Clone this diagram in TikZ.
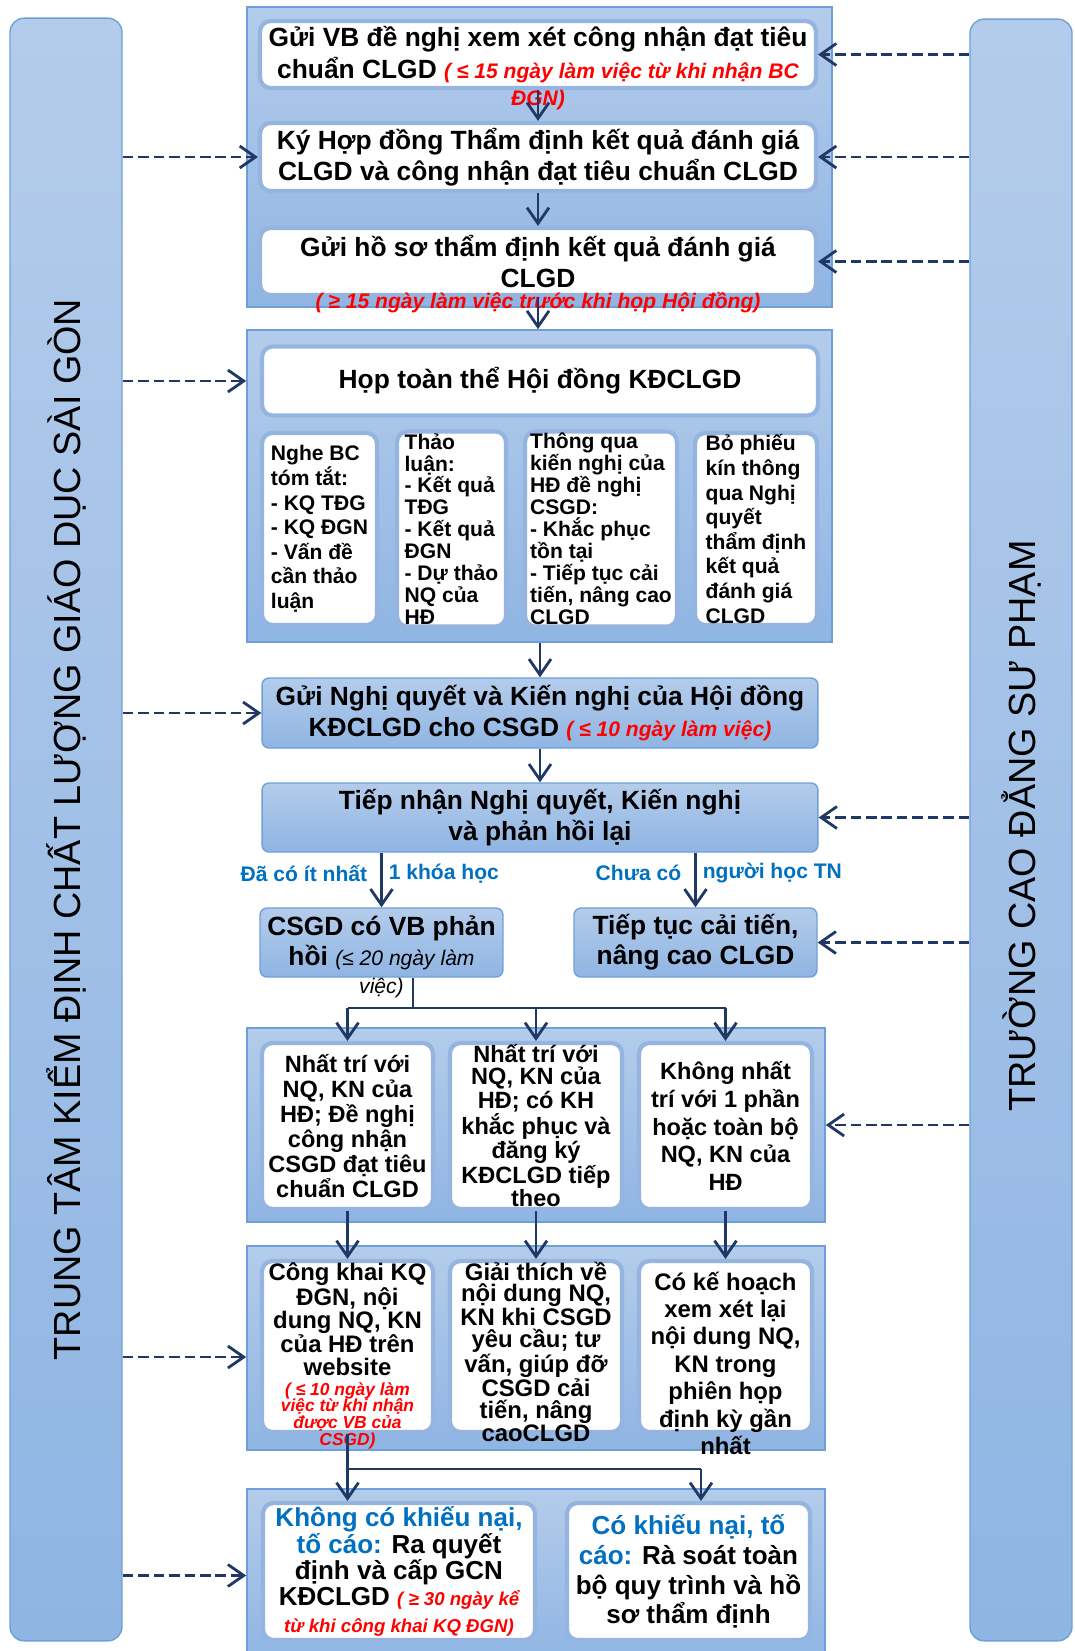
\documentclass[tikz,border=0pt]{standalone}
\usepackage{fontspec}
\setmainfont{Liberation Sans}
\usetikzlibrary{arrows.meta, positioning}
\definecolor{paneltop}{HTML}{B4CCEB}
\definecolor{panelbot}{HTML}{8FB5E3}
\definecolor{panelline}{HTML}{6F9FD8}
\definecolor{boxline}{HTML}{95B4E0}
\definecolor{navyline}{HTML}{1F3864}
\definecolor{deadred}{HTML}{FF0000}
\definecolor{notebl}{HTML}{0070C0}

\newcommand{\deadline}[1]{{\color{deadred}\bfseries\itshape\fontsize{12}{14}\selectfont #1}}
\newcommand{\smalldead}[1]{{\color{deadred}\itshape\fontsize{9.9}{11}\selectfont #1}}

\tikzset{
  panel/.style={draw=panelline, line width=0.8pt, rounded corners=8pt, top color=paneltop, bottom color=panelbot},
  group/.style={draw=panelline, line width=1pt, top color=paneltop, bottom color=panelbot, inner sep=0pt},
  whitebox/.style={draw=boxline, line width=2.4pt, fill=white, rounded corners=6pt, align=center, inner sep=1pt,
    font=\bfseries\fontsize{15}{18}\selectfont},
  boxtext/.style={align=center, inner sep=0pt},
  smalltext/.style={align=left, font=\bfseries\fontsize{12}{14}\selectfont},
  bluebox/.style={draw=panelline, line width=0.8pt, rounded corners=4pt, top color=paneltop, bottom color=panelbot,
    align=center, inner sep=1pt, font=\bfseries\fontsize{15}{18}\selectfont},
  flow/.style={draw=navyline, line width=1.6pt, -{Straight Barb[length=9pt,width=12.5pt]}},
  link/.style={draw=navyline, line width=1.6pt},
  feed/.style={flow, dash pattern=on 6pt off 2.8pt},
  branch/.style={font=\bfseries\fontsize{12}{14}\selectfont, text=notebl},
  sidetitle/.style={rotate=90, font=\fontsize{21.5}{24}\selectfont}
}

\begin{document}
\begin{tikzpicture}[x=0.02cm, y=-0.02cm]
\useasboundingbox (0,0) rectangle (1075,1651);

% Side panels
\node[panel, minimum width=2.24cm, minimum height=32.46cm] (lpanel) at (66,829.5) {};
\node[panel, minimum width=2.04cm, minimum height=32.44cm] (rpanel) at (1021,830) {};
\node[sidetitle] (ltitle) at (lpanel) {TRUNG TÂM KIỂM ĐỊNH CHẤT LƯỢNG GIÁO DỤC SÀI GÒN};
\node[sidetitle, xshift=0.08cm] (rtitle) at (rpanel) {TRƯỜNG CAO ĐẲNG SƯ PHẠM};

% Group 1
\node[group, minimum width=11.7cm, minimum height=6cm] (grp1) at (539.5,157) {};
\node[whitebox, minimum width=11.12cm, minimum height=1.34cm,
      label={[inner sep=0pt]below:\deadline{ĐGN)}}] (send) at (538,54.5)
  {Gửi VB đề nghị xem xét công nhận đạt tiêu\\ chuẩn CLGD \deadline{( ≤ 15 ngày làm việc từ khi nhận BC}};
\node[whitebox, minimum width=11.12cm, minimum height=1.36cm] (contract) at (538,157)
  {Ký Hợp đồng Thẩm định kết quả đánh giá\\ CLGD và công nhận đạt tiêu chuẩn CLGD};
\node[whitebox, minimum width=11.12cm, minimum height=1.34cm,
      label={[inner sep=0pt, yshift=3pt]below:\deadline{( ≥ 15 ngày làm việc trước khi họp Hội đồng)}}] (dossier) at (538,261.5)
  {Gửi hồ sơ thẩm định kết quả đánh giá\\ CLGD};

% Group 2
\node[group, minimum width=11.7cm, minimum height=6.24cm] (grp2) at (539.5,486) {};
\node[whitebox, minimum width=11.12cm, minimum height=1.38cm] (council) at (540,381) {Họp toàn thể Hội đồng KĐCLGD};
\node[whitebox, smalltext, minimum width=2.3cm, minimum height=3.84cm] (listen) at (319.5,529)
  {Nghe BC\\ tóm tắt:\\ - KQ TĐG\\ - KQ ĐGN\\ - Vấn đề\\ cần thảo\\ luận};
\node[whitebox, smalltext, font=\bfseries\fontsize{12}{12.5}\selectfont, minimum width=2.18cm, minimum height=3.84cm] (discuss) at (451.5,529)
  {Thảo\\ luận:\\ - Kết quả\\ TĐG\\ - Kết quả\\ ĐGN\\ - Dự thảo\\ NQ của\\ HĐ};
\node[whitebox, smalltext, font=\bfseries\fontsize{12}{12.5}\selectfont, minimum width=3.04cm, minimum height=3.84cm] (approve) at (601,529)
  {Thông qua\\ kiến nghị của\\ HĐ đề nghị\\ CSGD:\\ - Khắc phục\\ tồn tại\\ - Tiếp tục cải\\ tiến, nâng cao\\ CLGD};
\node[whitebox, smalltext, minimum width=2.44cm, minimum height=3.84cm] (vote) at (756,529)
  {Bỏ phiếu\\ kín thông\\ qua Nghị\\ quyết\\ thẩm định\\ kết quả\\ đánh giá\\ CLGD};

% Resolution and feedback
\node[bluebox, minimum width=11.12cm, minimum height=1.4cm] (resolution) at (540,713)
  {Gửi Nghị quyết và Kiến nghị của Hội đồng\\ KĐCLGD cho CSGD \deadline{( ≤ 10 ngày làm việc)}};
\node[bluebox, minimum width=11.12cm, minimum height=1.38cm] (receive) at (540,817.5)
  {Tiếp nhận Nghị quyết, Kiến nghị\\ và phản hồi lại};
\node[bluebox, minimum width=4.86cm, minimum height=1.38cm, font=\bfseries\fontsize{15}{17}\selectfont,
      label={[inner sep=0pt, font=\itshape\fontsize{12}{14}\selectfont]below:việc)}] (reply) at (381.5,942.5)
  {CSGD có VB phản\\ hồi {\mdseries\itshape\fontsize{12}{14}\selectfont (≤ 20 ngày làm}};
\node[bluebox, minimum width=4.86cm, minimum height=1.38cm, font=\bfseries\fontsize{15}{17}\selectfont] (improve) at (695.5,942.5)
  {Tiếp tục cải tiến,\\ nâng cao CLGD};

% Group 3
\node[group, minimum width=11.56cm, minimum height=3.88cm] (grp3) at (536,1125) {};
\node[whitebox, font=\bfseries\fontsize{13.4}{14.2}\selectfont, minimum width=3.42cm, minimum height=3.32cm] (agree) at (347.5,1126)
  {Nhất trí với\\ NQ, KN của\\ HĐ; Đề nghị\\ công nhận\\ CSGD đạt tiêu\\ chuẩn CLGD};
\node[whitebox, font=\bfseries\fontsize{13.4}{12.2}\selectfont, minimum width=3.44cm, minimum height=3.32cm] (agreeplan) at (536,1126)
  {Nhất trí với\\ NQ, KN của\\ HĐ; có KH\\ khắc phục và\\ đăng ký\\ KĐCLGD tiếp\\ theo};
\node[whitebox, font=\bfseries\fontsize{13.4}{15.8}\selectfont, minimum width=3.46cm, minimum height=3.32cm] (disagree) at (725.5,1126)
  {Không nhất\\ trí với 1 phần\\ hoặc toàn bộ\\ NQ, KN của\\ HĐ};

% Group 4 (text sits low and runs past the boxes)
\node[group, minimum width=11.56cm, minimum height=4.08cm] (grp4) at (536,1348) {};
\node[whitebox, minimum width=3.42cm, minimum height=3.42cm] (publish) at (347.5,1346.5) {};
\node[whitebox, minimum width=3.44cm, minimum height=3.42cm] (explain) at (536,1346.5) {};
\node[whitebox, minimum width=3.46cm, minimum height=3.42cm] (review) at (725.5,1346.5) {};
\node[boxtext, font=\bfseries\fontsize{13.6}{12.8}\selectfont, yshift=-5.4pt] (publishtext) at (publish)
  {Công khai KQ\\ ĐGN, nội\\ dung NQ, KN\\ của HĐ trên\\ website\\[-1.5pt]
   \smalldead{( ≤ 10 ngày làm}\\[-3.3pt] \smalldead{việc từ khi nhận}\\[-3.3pt]
   \smalldead{được VB của}\\[-3.3pt] \smalldead{CSGD)}};
\node[boxtext, font=\bfseries\fontsize{13.6}{12.2}\selectfont, yshift=-3pt] (explaintext) at (explain)
  {Giải thích về\\ nội dung NQ,\\ KN khi CSGD\\ yêu cầu; tư\\ vấn, giúp đỡ\\ CSGD cải\\ tiến, nâng\\ caoCLGD};
\node[boxtext, font=\bfseries\fontsize{13.6}{15.6}\selectfont, yshift=-9.5pt] (reviewtext) at (review)
  {Có kế hoạch\\ xem xét lại\\ nội dung NQ,\\ KN trong\\ phiên họp\\ định kỳ gần\\ nhất};

% Group 5
\node[group, minimum width=11.56cm, minimum height=3.46cm] (grp5) at (536,1575.5) {};
\node[whitebox, font=\bfseries\fontsize{14.8}{15}\selectfont, minimum width=5.44cm, minimum height=2.74cm] (nocomplaint) at (399,1571.5)
  {\textcolor{notebl}{Không có khiếu nại,}\\ \textcolor{notebl}{tố cáo:} Ra quyết\\ định và cấp GCN\\
   KĐCLGD {\color{deadred}\itshape\fontsize{10.6}{12}\selectfont ( ≥ 30 ngày kể}\\
   {\color{deadred}\itshape\fontsize{10.6}{12}\selectfont từ khi công khai KQ ĐGN)}};
\node[whitebox, font=\bfseries\fontsize{14.8}{17}\selectfont, minimum width=4.86cm, minimum height=2.74cm] (complaint) at (688.5,1571.5)
  {\textcolor{notebl}{Có khiếu nại, tố}\\ \textcolor{notebl}{cáo:} Rà soát toàn\\ bộ quy trình và hồ\\ sơ thẩm định};

% Main flow
\draw[flow] (send) -- (contract);
\draw[flow] (contract) -- (dossier);
\draw[flow] (dossier.south) -- (dossier.south |- grp2.north);
\draw[flow] (resolution.north |- grp2.south) -- (resolution);
\draw[flow] (resolution) -- (receive);
\draw[flow] (receive.south -| reply) -- node[branch, pos=0.375, left, xshift=-4pt]{Đã có ít nhất} node[branch, pos=0.375, right]{1 khóa học} (reply);
\draw[flow] (receive.south -| improve) -- node[branch, pos=0.375, left, xshift=-4pt]{Chưa có} node[branch, pos=0.375, right]{người học TN} (improve);

% Split after reply
\coordinate (fork1) at (413,1008);
\draw[link] (reply.south -| fork1) -- (fork1);
\draw[link] (agree |- fork1) -- (disagree |- fork1);
\draw[flow] (agree |- fork1) -- (agree);
\draw[flow] (agreeplan |- fork1) -- (agreeplan);
\draw[flow] (disagree |- fork1) -- (disagree);
\draw[flow] (agree) -- (publish);
\draw[flow] (agreeplan) -- (explain);
\draw[flow] (disagree) -- (review);

% Split after publish
\coordinate (fork2) at (publish.south |- 0,1469);
\coordinate (fork3) at (701,1469);
\draw[link] (publish.south) -- (fork2) -- (fork3);
\draw[flow] (fork2) -- (fork2 |- nocomplaint.north);
\draw[flow] (fork3) -- (fork3 |- complaint.north);

% Dashed links from the panels
\draw[feed] (rpanel.west |- send) -- (send);
\draw[feed] (rpanel.west |- contract) -- (contract);
\draw[feed] (rpanel.west |- dossier) -- (dossier);
\draw[feed] (rpanel.west |- receive) -- (receive);
\draw[feed] (rpanel.west |- improve) -- (improve);
\draw[feed] (rpanel.west |- grp3) -- (grp3);
\draw[feed] (lpanel.east |- contract) -- (contract);
\draw[feed] (lpanel.east |- council) -- (council -| grp2.west);
\draw[feed] (lpanel.east |- resolution) -- (resolution);
\coordinate (in4) at ([yshift=-0.18cm]grp4.west);
\draw[feed] (lpanel.east |- in4) -- (in4);
\draw[feed] (lpanel.east |- grp5) -- (grp5);

\end{tikzpicture}
\end{document}
